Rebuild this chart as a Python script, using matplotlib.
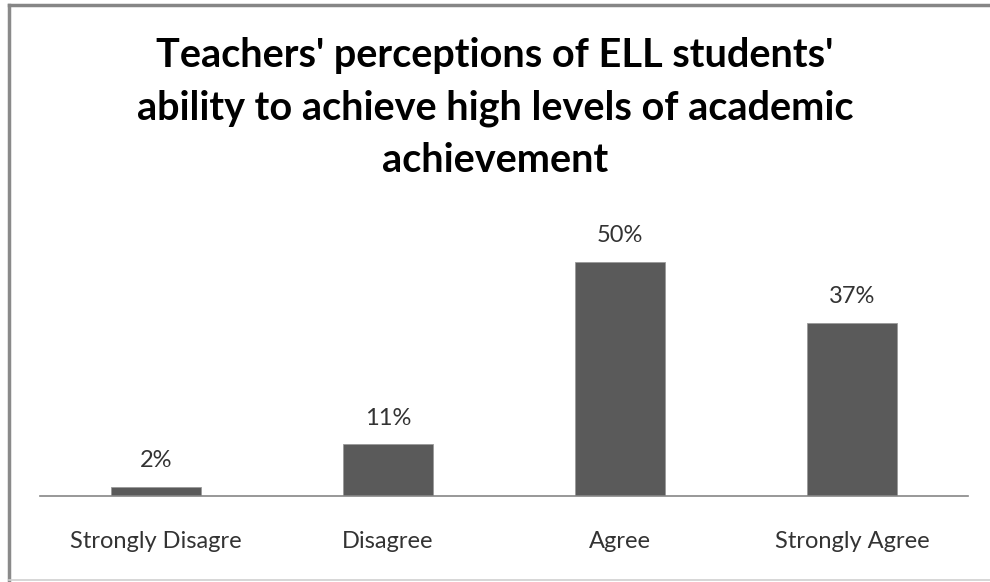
import matplotlib.pyplot as plt

# data
categories = ['Strongly Disagre', 'Disagree', 'Agree', 'Strongly Agree']
percents = [2, 11, 50, 37]
title = "Teachers' perceptions of ELL students'\nability to achieve high levels of academic\nachievement"

plt.rcParams['font.family'] = ['Lato', 'DejaVu Sans']

fig = plt.figure(figsize=(9.9, 5.82), dpi=100)
W, H = 990, 582

# chart frame (gray border, right side cut off)
fig.add_artist(plt.Line2D([9 / W, 9 / W], [1 - 5 / H, 1 - 580 / H], color='#8a8a8a', lw=2.5))
fig.add_artist(plt.Line2D([9 / W, 1], [1 - 5 / H, 1 - 5 / H], color='#868686', lw=2.5))
fig.add_artist(plt.Line2D([9 / W, 1], [1 - 580 / H, 1 - 580 / H], color='#d0d0d0', lw=1.2))

# plot area: x 40..968, y 215..496 (pixels from top)
ax = fig.add_axes([40 / W, 1 - 496 / H, 928 / W, (496 - 215) / H])
x = range(len(categories))
bars = ax.bar(x, percents, width=0.39, color='#5a5a5a', edgecolor='#9a9a9a', linewidth=0.6)
ax.set_xlim(-0.5, len(categories) - 0.5)
ax.set_ylim(0, 60)

for b, v in zip(bars, percents):
    ax.annotate(f'{v}%', (b.get_x() + b.get_width() / 2, v), xytext=(0, 19),
                textcoords='offset points', ha='center', va='center',
                fontsize=17, color='#333333')

ax.set_xticks(list(x))
ax.set_xticklabels(categories, fontsize=17, color='#333333')
ax.tick_params(axis='x', length=0, pad=25)
ax.set_yticks([])
for s in ['top', 'right', 'left']:
    ax.spines[s].set_visible(False)
ax.spines['bottom'].set_color('#868686')
ax.spines['bottom'].set_linewidth(1.2)

fig.text(495 / W, 1 - 108 / H, title, ha='center', va='center', fontsize=28.5,
         fontweight='bold', color='black', linespacing=1.5)

fig.savefig('out.png', dpi=100)
